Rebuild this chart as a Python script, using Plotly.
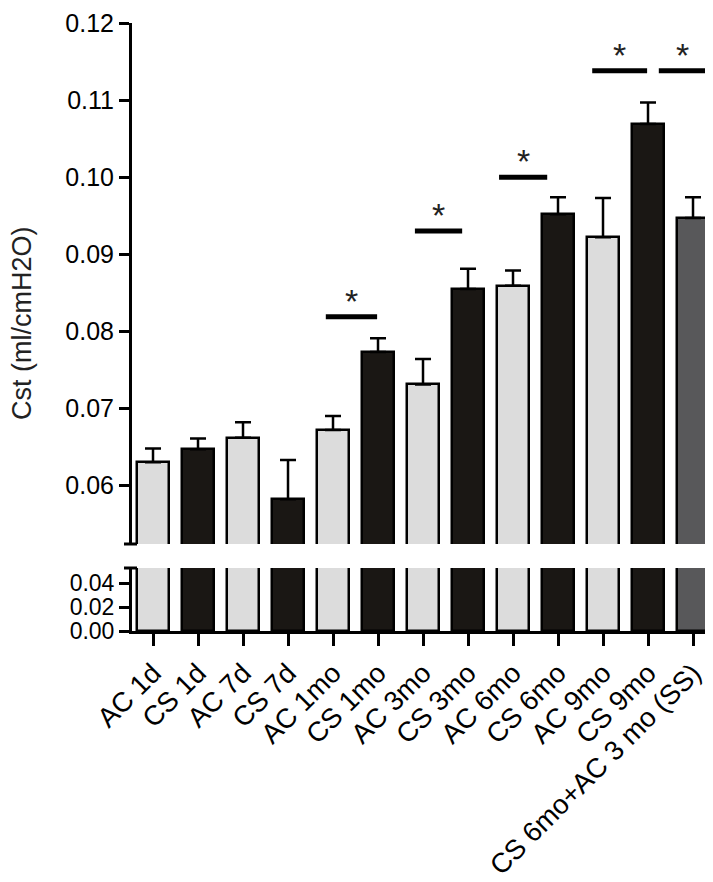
import plotly.graph_objects as go

categories = ["AC 1d", "CS 1d", "AC 7d", "CS 7d", "AC 1mo", "CS 1mo", "AC 3mo",
              "CS 3mo", "AC 6mo", "CS 6mo", "AC 9mo", "CS 9mo", "CS 6mo+AC 3 mo (SS)"]
means = [0.0630, 0.0647, 0.0662, 0.0582, 0.0672, 0.0773, 0.0731,
         0.0855, 0.0859, 0.0952, 0.0922, 0.1069, 0.0947]
sem = [0.0018, 0.0014, 0.0020, 0.0051, 0.0018, 0.0018, 0.0033,
       0.0026, 0.0020, 0.0022, 0.0051, 0.0028, 0.0027]
groups = ["AC", "CS", "AC", "CS", "AC", "CS", "AC", "CS", "AC", "CS", "AC", "CS", "SS"]
group_colors = {"AC": "#dcdcdc", "CS": "#1a1714", "SS": "#58585a"}

# significance brackets: (x start, x end, y level)
sig_x0 = [3.84, 5.82, 7.69, 9.76, 11.24]
sig_x1 = [4.98, 6.87, 8.76, 10.98, 12.29]
sig_y = [0.0819, 0.0930, 0.1000, 0.1138, 0.1138]

upper_ticks = [0.06, 0.07, 0.08, 0.09, 0.10, 0.11, 0.12]
lower_ticks = [0.00, 0.02, 0.04]

colors = [group_colors[g] for g in groups]
idx = list(range(len(categories)))

FONT = "Liberation Sans, Arial, sans-serif"

fig = go.Figure()
fig.add_trace(go.Bar(
    x=idx, y=means, width=0.71, marker=dict(color=colors, line=dict(color="black", width=2.5)),
    error_y=dict(type="data", array=sem, arrayminus=[0] * len(sem), symmetric=False,
                 color="black", thickness=2.5, width=8),
    xaxis="x", yaxis="y", showlegend=False))
fig.add_trace(go.Bar(
    x=idx, y=means, width=0.71, marker=dict(color=colors, line=dict(color="black", width=2.5)),
    xaxis="x2", yaxis="y2", showlegend=False))

for x0, x1, y in zip(sig_x0, sig_x1, sig_y):
    fig.add_shape(type="line", xref="x", yref="y", x0=x0, x1=x1, y0=y, y1=y,
                  line=dict(color="black", width=5))
    fig.add_annotation(x=(x0 + x1) / 2, y=y, xref="x", yref="y", text="*",
                       showarrow=False, yanchor="bottom", yshift=-5,
                       font=dict(family=FONT, size=34, color="#222"))

up_bot = (623 - 536) / 608
lo_top = (623 - 560) / 608
xr = [-0.467, 12.511]

fig.update_layout(
    width=713, height=882,
    margin=dict(l=124, r=5, t=15, b=259),
    paper_bgcolor="white", plot_bgcolor="white",
    bargap=0,
    font=dict(family=FONT, color="black"),
    xaxis=dict(domain=[0, 1], range=xr, anchor="y", showline=False, showticklabels=False,
               ticks="", showgrid=False, zeroline=False, automargin=False),
    yaxis=dict(domain=[up_bot, 1], range=[0.0524, 0.12], anchor="x",
               tickvals=upper_ticks, ticktext=[f"{v:.2f}" for v in upper_ticks],
               showline=True, linecolor="black", linewidth=3,
               ticks="outside", ticklen=10, tickwidth=3, tickcolor="black",
               tickfont=dict(size=25), showgrid=False, zeroline=False, automargin=False),
    xaxis2=dict(domain=[0, 1], range=xr, anchor="y2", tickvals=idx, ticktext=categories,
                tickangle=-45, showline=True, linecolor="black", linewidth=3,
                ticks="outside", ticklen=12, tickwidth=3, tickcolor="black",
                tickfont=dict(size=27.5), showgrid=False, zeroline=False, automargin=False),
    yaxis2=dict(domain=[0, lo_top], range=[0, 0.0525], anchor="x2",
                tickvals=lower_ticks, ticktext=[f"{v:.2f}" for v in lower_ticks],
                showline=True, linecolor="black", linewidth=3,
                ticks="outside", ticklen=10, tickwidth=3, tickcolor="black",
                tickfont=dict(size=23), showgrid=False, zeroline=False, automargin=False),
)

# axis break marks
for yy in [up_bot, lo_top]:
    fig.add_shape(type="line", xref="paper", yref="paper",
                  x0=(116 - 124) / 584, x1=(129 - 124) / 584, y0=yy, y1=yy,
                  line=dict(color="black", width=3))

fig.add_annotation(xref="paper", yref="paper", x=(14 - 124) / 584, y=(623 - 316) / 608,
                   text="Cst (ml/cmH2O)", textangle=-90, showarrow=False,
                   xanchor="center", yanchor="middle",
                   font=dict(family=FONT, size=27, color="#222"))

fig.write_html("out.html")
